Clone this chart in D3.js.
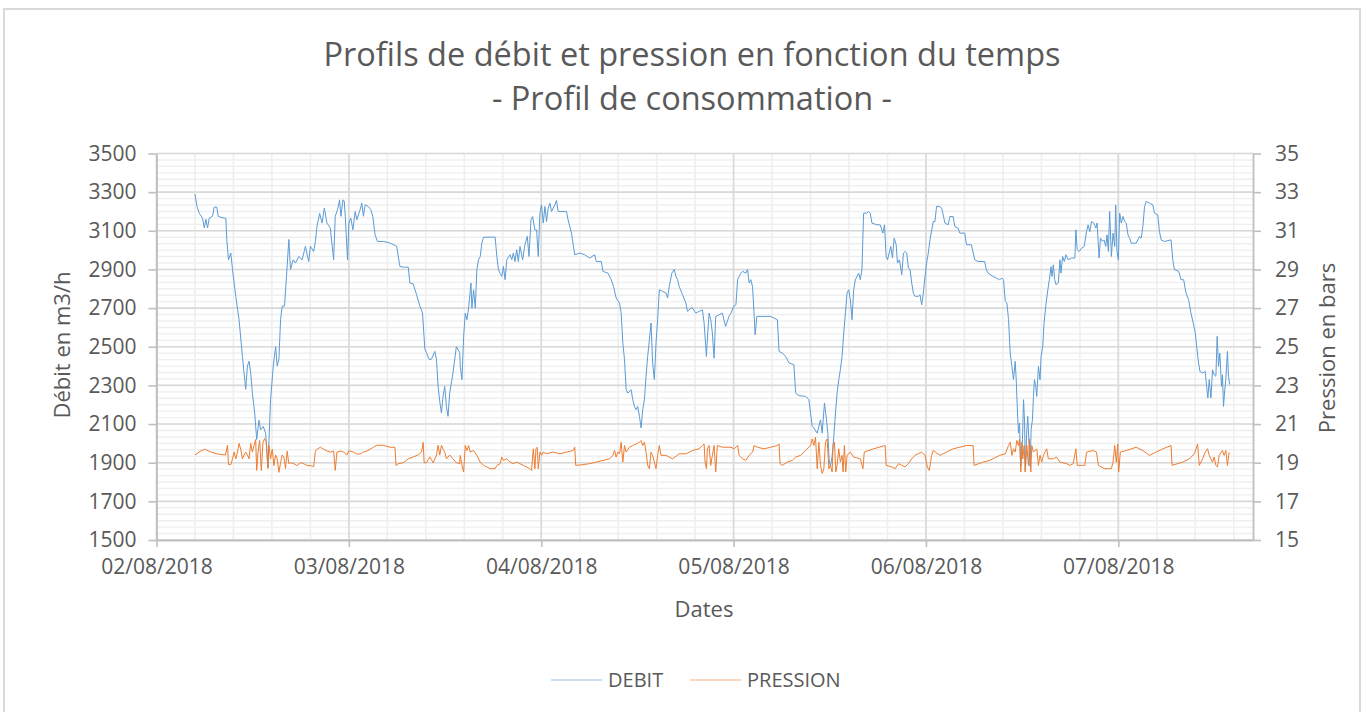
<!DOCTYPE html>
<html>
<head>
<meta charset="utf-8">
<script src="https://cdn.jsdelivr.net/npm/d3@7"></script>
<style>
  body { margin: 0; background: #fff; }
  svg text { font-family: "Open Sans", sans-serif; fill: #595959; }
</style>
</head>
<body>
<svg id="CHART" width="1365" height="712"></svg>
<script>
// hours since 02/08/2018 00:00
var debitHours = [
  4.8, 5.05, 5.34, 5.75, 5.96, 6.17, 6.37, 6.58, 6.99, 7.2, 7.53, 7.7, 8.44, 8.65, 8.77, 8.98, 9.27, 9.48, 9.89, 10.3,
  10.72, 10.92, 11.13, 11.34, 11.55, 11.75, 11.96, 12.25, 12.5, 12.79, 12.99, 13.32, 13.61, 13.9, 14.23, 14.57, 14.86, 15.06, 15.27, 15.48,
  15.68, 15.97, 16.22, 16.51, 16.72, 17.05, 17.34, 17.75, 18.17, 18.58, 18.99, 19.2, 19.61, 19.82, 20.03, 20.36, 20.65, 20.94, 21.27, 21.68,
  22.1, 22.3, 22.59, 22.84, 23.01, 23.26, 23.42, 23.55, 23.83, 24.0, 24.25, 24.5, 24.79, 24.99, 25.41, 25.61, 25.82, 26.03, 26.44, 26.73,
  26.98, 27.27, 27.56, 28.3, 29.13, 29.96, 30.37, 30.79, 31.41, 31.61, 32.03, 32.44, 32.86, 33.19, 33.48, 33.68, 34.01, 34.3, 34.72, 34.93,
  35.13, 35.34, 35.55, 35.75, 35.96, 36.17, 36.37, 36.58, 36.99, 37.41, 37.82,
  37.9, 38.11, 38.32, 38.52, 38.73, 38.94, 39.23, 39.35, 39.56, 39.77, 39.97, 40.18, 40.39, 40.59, 40.8, 41.63, 42.25, 42.46, 42.66, 42.87,
  43.08, 43.28, 43.49, 43.7, 44.11, 44.32, 44.52, 44.73, 44.94, 45.14, 45.35, 45.68, 45.97, 46.26, 46.47, 46.72, 46.92, 47.21, 47.42, 47.63,
  47.83, 48.04, 48.25, 48.46, 48.66, 48.87, 49.08, 49.28, 49.7, 49.9, 50.11, 50.73, 51.15, 51.35, 51.77, 52.18, 52.8, 53.42, 54.04, 54.66,
  54.87, 55.49, 55.7, 56.32, 56.73, 57.02, 57.35, 57.77, 57.97, 58.18, 58.39, 58.59, 58.8, 59.21, 59.42, 59.63, 59.83, 60.04, 60.25, 60.46,
  60.66, 60.87, 61.08, 61.28, 61.49, 61.7, 61.9, 62.11, 62.32, 62.52, 62.73, 63.15, 63.56, 63.77, 63.97, 64.3, 64.59, 64.8, 65.01, 65.21,
  65.63, 66.04, 66.25, 66.66, 66.87, 67.28, 67.7, 68.11, 68.32, 68.61, 68.77, 68.94, 69.15, 69.35, 69.56, 69.77, 70.18, 70.59, 71.01, 71.42,
  71.67, 72.0, 72.29, 72.5, 72.7, 72.91, 73.12, 73.53, 73.74, 73.94, 74.15, 74.36, 74.57, 74.69, 74.9, 75.39, 76.63, 77.05, 77.46, 77.67,
  78.08, 78.5, 78.91, 79.53, 79.74, 80.15, 80.98, 81.39, 81.6, 81.81, 82.01, 82.43, 82.84, 83.05, 83.34, 83.59, 83.75, 83.92, 84.08, 84.29,
  84.5, 84.71, 84.91, 85.12, 85.32, 85.53, 85.74, 85.95, 86.15, 86.36, 86.57, 86.77, 86.98, 87.19, 87.39, 87.6, 87.81, 88.01, 88.22, 88.63,
  88.84, 89.05, 89.26, 89.88, 90.29, 90.62, 90.83, 91.03, 91.2, 91.41, 91.61, 91.82, 92.03, 92.28, 92.44, 92.69, 92.98, 93.19, 93.39, 93.6,
  93.81, 94.01, 94.22, 94.43, 94.63, 95.05, 95.26, 95.46, 95.67, 95.88, 96.08, 96.29, 96.5, 96.91, 97.12, 97.32, 97.74, 97.95, 98.15, 98.36,
  98.77, 98.98, 99.39, 99.6, 100.01, 100.22, 100.84, 101.05, 101.67, 102.08, 102.5, 103.32, 103.53, 103.74, 104.36, 104.77, 105.19,
  105.48, 105.68, 105.89, 106.1, 106.3, 106.51, 106.72, 106.92, 107.13, 107.26, 107.42, 107.54, 107.67, 107.83, 108.04, 108.17, 108.29, 108.41, 108.58, 108.7,
  108.87, 108.99, 109.12, 109.28, 109.41, 109.53, 109.7, 109.82, 110.03, 110.23, 110.36, 110.57, 110.73, 110.94, 111.15, 111.39, 111.6, 111.72, 111.89, 112.06,
  112.22, 112.51, 112.72, 112.84, 113.05, 113.26, 113.46, 113.75, 114.17, 114.58, 114.7, 114.87, 115.12, 115.41, 115.74, 116.03, 116.23, 116.44, 116.65, 116.94,
  117.19, 117.35, 117.6, 117.77, 118.01, 118.22, 118.43, 118.59, 118.76, 118.92, 119.13, 119.34, 119.55, 119.67, 119.83, 120.0, 120.17, 120.37, 120.58, 120.79,
  120.99, 121.2, 121.41, 121.61, 122.23, 122.65, 122.86, 123.06, 123.27, 123.48, 123.89, 124.3, 124.51, 124.92, 125.13, 125.34, 125.75, 126.58, 126.79, 126.99,
  127.53, 127.82, 128.15, 128.44, 128.77, 129.06, 129.35, 129.6, 129.77, 130.01, 130.18, 130.51, 130.84, 131.01, 131.17, 131.34, 131.55, 131.75, 131.96, 132.17,
  132.33, 132.5, 132.66, 132.87, 132.99, 133.12, 133.28, 133.41, 133.61, 133.74, 133.9
];
var debitValues = [
  3290, 3225, 3190, 3165, 3115, 3160, 3115, 3165, 3175, 3222, 3222, 3175, 3165, 3165, 3055, 2950, 2985, 2900, 2760, 2640,
  2450, 2365, 2280, 2400, 2425, 2365, 2260, 2157, 2020, 2120, 2070, 2088, 2053, 1875, 2225, 2400, 2500, 2400, 2435, 2640,
  2710, 2710, 2865, 3055, 2900, 2950, 2933, 2967, 2950, 3020, 2940, 3020, 2993, 3045, 3125, 3190, 3140, 3217, 3140, 3115,
  2950, 3175, 3210, 3260, 3175, 3260, 3255, 3175, 2950, 3140, 3165, 3105, 3200, 3157, 3210, 3243, 3175, 3235, 3225, 3210,
  3175, 3080, 3045, 3045, 3037, 3020, 2915, 2912, 2912, 2830, 2825, 2770, 2710, 2675, 2488, 2470, 2435, 2435, 2476, 2435,
  2295, 2217, 2157, 2243, 2295, 2190, 2140, 2260, 2365, 2500, 2470,
  2398, 2330, 2554, 2674, 2640, 2700, 2830, 2700, 2795, 2700, 2900, 2950, 2967, 3036, 3067, 3067, 3067, 2967, 2900, 2880,
  2864, 2915, 2847, 2950, 2976, 2950, 2985, 2941, 3002, 2941, 3019, 2950, 3028, 3071, 2967, 3157, 3174, 3105, 3105, 2967,
  3191, 3234, 3140, 3226, 3148, 3217, 3243, 3200, 3234, 3257, 3200, 3200, 3200, 3157, 3088, 2976, 2985, 2976, 2959, 2976,
  2941, 2941, 2890, 2881, 2847, 2812, 2752, 2726, 2674, 2519, 2433, 2278, 2260, 2278, 2226, 2191, 2174, 2191, 2140, 2080,
  2174, 2226, 2347, 2450, 2536, 2623, 2416, 2330, 2519, 2640, 2795, 2786, 2778, 2752, 2812, 2881, 2900, 2864, 2847, 2812,
  2769, 2726, 2683, 2700, 2700, 2674, 2683, 2691, 2623, 2450, 2571, 2674, 2640, 2571, 2441, 2657, 2665, 2674, 2605, 2657,
  2674, 2709, 2717, 2847, 2864, 2881, 2890, 2881, 2900, 2830, 2847, 2812, 2657, 2562, 2657, 2657, 2657, 2648, 2640, 2476,
  2467, 2450, 2416, 2407, 2260, 2247, 2243, 2226, 2157, 2088, 2080, 2053, 2122, 2053, 2209, 2122, 2053, 1916, 1881, 1933,
  2036, 2157, 2260, 2330, 2381, 2450, 2571, 2674, 2778, 2795, 2743, 2640, 2795, 2847, 2864, 2881, 2847, 2900, 3191, 3191,
  3200, 3191, 3140, 3131, 3131, 3088, 3131, 2967, 2950, 2985, 3019, 2959, 3062, 3028, 2933, 2950, 2873, 2985, 2993, 2985,
  2907, 2900, 2830, 2778, 2761, 2761, 2769, 2717, 2778, 2864, 2933, 2985, 3053, 3148, 3148, 3226, 3226, 3217, 3183, 3140,
  3131, 3174, 3174, 3122, 3114, 3088, 3088, 3028, 3028, 2950, 2941, 2941, 2900, 2881, 2864, 2855, 2847,
  2855, 2847, 2735, 2726, 2640, 2467, 2398, 2330, 2424, 2330, 2157, 2053, 2105, 1881, 2019, 2226, 2122, 1864, 2071, 2140,
  1985, 1881, 2071, 2122, 2243, 2330, 2295, 2243, 2398, 2330, 2450, 2502, 2622, 2709, 2778, 2847, 2915, 2864, 2924, 2847,
  2821, 2830, 2950, 2881, 2967, 2941, 2976, 2950, 2959, 2959, 3105, 3002, 2993, 3010, 3019, 3096, 3131, 3096, 3148, 3140,
  3114, 3140, 2959, 3062, 3045, 3053, 3019, 3079, 2993, 3200, 2967, 3088, 3019, 3234, 2993, 2950, 3191, 3140, 3174, 3148,
  3140, 3079, 3062, 3036, 3036, 3071, 3062, 3122, 3226, 3252, 3243, 3234, 3191, 3183, 3097, 3053, 3045, 3053, 2950, 2900,
  2890, 2847, 2847, 2778, 2743, 2674, 2622, 2571, 2502, 2416, 2372, 2364, 2372, 2295, 2235, 2330, 2235, 2381, 2355, 2347,
  2554, 2398, 2467, 2295, 2355, 2191, 2278, 2330, 2476, 2347, 2304
];

var pressionHours = [
  4.8, 5.5, 6.0, 6.8, 7.6, 8.6, 8.86, 8.98, 9.27, 9.48, 9.68, 9.89, 10.1, 10.3, 10.51, 10.72, 10.92, 11.13, 11.34, 11.55,
  11.75, 11.96, 12.17, 12.37, 12.5, 12.66, 12.87, 13.08, 13.28, 13.49, 13.7, 13.9, 14.03, 14.23, 14.44, 14.65, 14.86, 15.06, 15.27, 15.48,
  15.68, 15.89, 16.1, 16.3, 16.51, 16.72, 17.13, 17.55, 17.96, 18.37, 18.79, 19.2, 19.61, 19.82, 20.03, 20.44, 20.86, 21.27, 21.68, 22.1,
  22.3, 22.51, 22.92, 23.34, 23.75, 23.96, 24.17, 24.58, 24.99, 25.41, 25.82, 26.23, 26.65, 27.06, 27.48, 28.3, 29.13, 29.75, 29.88, 30.17,
  30.79, 31.41, 32.03, 32.65, 33.06, 33.27, 33.39, 33.68, 34.1, 34.51, 34.93, 35.13, 35.34, 35.55, 35.75, 35.96, 36.17, 36.58, 36.99, 37.41, 37.82,
  37.9, 38.11, 38.32, 38.52, 38.73, 38.94, 39.14, 39.56, 39.97, 40.39, 40.8, 41.21, 41.63, 42.25, 42.46, 42.87, 43.08, 43.28, 43.7, 44.11,
  44.52, 44.94, 45.35, 45.77, 46.18, 46.59, 46.8, 47.01, 47.21, 47.34, 47.5, 47.63, 47.83, 48.04, 48.25, 48.66, 49.49, 50.32, 51.15, 51.97,
  52.18, 52.3, 53.21, 54.04, 54.87, 55.7, 56.52, 56.94, 57.15, 57.35, 57.56, 57.77, 57.97, 58.18, 58.39, 58.59, 59.01, 59.42, 59.83, 60.25,
  60.46, 60.66, 60.87, 61.08, 61.28, 61.49, 61.7, 61.9, 62.11, 62.32, 62.52, 62.73, 62.94, 63.56, 64.39, 65.21, 66.04, 66.87, 67.7, 68.11,
  68.32, 68.44, 68.61, 68.73, 68.94, 69.15, 69.35, 69.56, 69.77, 69.97, 70.59, 71.42,
  71.67, 72.08, 72.5, 72.7, 73.12, 73.53, 73.94, 74.36, 74.57, 74.98, 75.81, 76.63, 77.46, 77.67, 77.79, 78.08, 78.7, 79.32, 79.74, 80.36,
  80.98, 81.6, 81.81, 82.01, 82.22, 82.43, 82.64, 82.84, 83.05, 83.26, 83.46, 83.67, 83.88, 84.08, 84.29, 84.41, 84.58, 84.75, 84.91, 85.12,
  85.32, 85.53, 85.66, 85.82, 85.99, 86.15, 86.57, 86.98, 87.81, 88.14, 88.3, 89.46, 90.91, 91.03, 91.74, 92.15, 92.57, 92.98, 93.39, 93.81,
  94.22, 94.63, 95.46, 95.88, 96.17, 96.41, 96.7, 96.91, 97.74, 98.57, 99.39, 100.22, 101.05, 101.88, 102.0, 103.12, 103.95, 105.19,
  105.89, 106.3, 106.51, 106.72, 106.92, 107.13, 107.34, 107.54, 107.67, 107.83, 107.96, 108.08, 108.25, 108.37, 108.58, 108.79, 108.91, 109.08, 109.2, 109.41,
  109.82, 110.03, 110.23, 110.44, 110.65, 111.06, 111.27, 111.89, 112.3, 112.72, 113.55, 113.96, 114.37, 114.7, 114.87, 115.41, 115.82, 116.03, 116.86, 117.27,
  117.52, 118.3, 119.13, 119.34, 119.55, 119.75, 119.92, 120.04, 120.25, 120.99, 122.23, 123.06, 123.89, 124.72, 125.55, 126.58, 126.7, 128.03, 128.86, 129.48,
  129.89, 130.1, 130.51, 130.84, 131.13, 131.34, 131.75, 131.96, 132.17, 132.37, 132.58, 132.99, 133.2, 133.41, 133.61, 133.82
];
var pressionValues = [
  19.4, 19.6, 19.7, 19.55, 19.45, 19.4, 19.9, 18.9, 18.9, 19.2, 19.55, 19.2, 19.55, 20.0, 19.7, 19.2, 19.4, 19.55, 19.4, 19.2,
  20.0, 19.55, 19.9, 20.2, 18.6, 19.55, 20.15, 18.6, 20.05, 20.25, 20.1, 18.7, 19.9, 19.2, 19.7, 18.85, 19.4, 19.2, 18.5, 19.0,
  19.4, 19.3, 18.7, 19.6, 18.95, 19.0, 18.95, 18.85, 19.0, 18.95, 18.85, 18.85, 18.8, 19.6, 19.7, 19.8, 19.7, 19.6, 19.55, 19.6,
  18.6, 19.55, 19.6, 19.55, 19.4, 19.6, 19.6, 19.55, 19.45, 19.45, 19.55, 19.6, 19.7, 19.8, 19.9, 19.9, 19.8, 19.8, 18.85, 18.95,
  19.0, 19.2, 19.3, 19.4, 19.55, 20.05, 19.0, 19.0, 19.3, 19.0, 19.4, 19.9, 19.4, 19.9, 19.7, 19.55, 19.2, 19.4, 19.2, 19.0, 18.95,
  19.38, 18.86, 18.52, 19.89, 19.63, 19.89, 19.55, 19.63, 19.38, 19.03, 18.86, 18.78, 18.69, 18.69, 18.86, 18.95, 19.29, 19.12, 19.2, 19.03,
  18.95, 19.03, 18.95, 18.86, 18.78, 18.69, 18.6, 19.72, 18.69, 19.72, 19.8, 18.69, 19.55, 19.38, 19.55, 19.46, 19.55, 19.46, 19.55, 19.63,
  19.8, 18.86, 18.9, 18.95, 19.03, 19.12, 19.2, 19.38, 19.63, 19.29, 19.55, 19.46, 20.06, 19.03, 19.89, 19.55, 19.8, 19.89, 19.97, 20.06,
  20.15, 19.89, 20.06, 19.55, 18.86, 18.69, 19.55, 19.38, 19.03, 18.69, 19.38, 19.89, 19.38, 19.38, 19.2, 19.46, 19.46, 19.63, 19.72, 19.89,
  19.97, 19.03, 18.69, 19.72, 19.89, 18.86, 19.38, 19.89, 18.52, 19.89, 19.8, 19.8,
  19.8, 19.72, 19.89, 19.38, 19.2, 19.12, 19.38, 19.55, 19.89, 19.8, 19.72, 19.8, 19.89, 19.97, 18.95, 18.86, 19.03, 19.12, 19.29, 19.38,
  19.63, 19.89, 20.23, 19.89, 20.32, 18.69, 20.06, 18.86, 18.44, 18.69, 20.06, 20.23, 18.69, 18.86, 18.52, 19.89, 20.06, 18.52, 18.86, 19.72,
  19.03, 19.38, 18.52, 19.89, 18.52, 19.38, 19.55, 19.29, 19.2, 18.69, 19.55, 19.72, 19.89, 18.86, 18.78, 18.69, 18.95, 18.86, 18.78, 18.95,
  19.2, 19.38, 19.55, 19.38, 18.78, 18.6, 19.38, 19.63, 19.38, 19.55, 19.72, 19.8, 19.89, 19.89, 18.86, 19.03, 19.12, 19.38,
  19.46, 19.89, 20.06, 19.38, 19.72, 19.55, 20.15, 19.89, 20.23, 18.52, 20.06, 19.2, 19.89, 18.52, 19.89, 18.86, 20.23, 18.52, 19.89, 19.55,
  19.72, 18.86, 19.38, 19.03, 19.38, 19.72, 19.2, 19.2, 19.29, 19.03, 18.95, 18.86, 18.95, 19.72, 18.86, 18.86, 18.86, 19.55, 19.63, 19.55,
  18.86, 18.69, 18.69, 19.03, 19.89, 19.03, 19.97, 18.52, 19.55, 19.63, 19.8, 19.63, 19.38, 19.55, 19.72, 19.89, 18.86, 19.03, 19.2, 19.46,
  19.97, 18.86, 19.2, 19.55, 19.72, 19.38, 19.03, 19.29, 18.86, 18.78, 19.38, 19.63, 19.38, 19.63, 18.86, 19.55
];

var debitTicks = [1500, 1700, 1900, 2100, 2300, 2500, 2700, 2900, 3100, 3300, 3500];
var pressionTicks = [15, 17, 19, 21, 23, 25, 27, 29, 31, 33, 35];
var dayTicks = [0, 24, 48, 72, 96, 120];
var dayLabels = ["02/08/2018", "03/08/2018", "04/08/2018", "05/08/2018", "06/08/2018", "07/08/2018"];
var seriesNames = ["DEBIT", "PRESSION"];
var seriesColors = ["#5b9bd5", "#ed7d31"];

var L = 156.5, R = 1253, T = 153.5, B = 540;
var svg = d3.select("#CHART");

var x = d3.scaleLinear().domain([0, 136.8]).range([L, R]);
var yL = d3.scaleLinear().domain([1500, 3500]).range([B, T]);
var yR = d3.scaleLinear().domain([15, 35]).range([B, T]);

// frame
svg.append("rect").attr("x", 4).attr("y", 9).attr("width", 1356).attr("height", 712)
  .attr("fill", "none").attr("stroke", "#d9d9d9").attr("stroke-width", 2);

// minor grid
var G = svg.append("g");
var minorY = d3.range(1500, 3500.1, 200 / 6);
G.selectAll("line.minorY").data(minorY).enter().append("line")
  .attr("x1", L).attr("x2", R).attr("y1", yL).attr("y2", yL)
  .attr("stroke", "#efefef").attr("stroke-width", 1.4);
var minorX = d3.range(0, 136.8, 4.8);
G.selectAll("line.minorX").data(minorX).enter().append("line")
  .attr("x1", x).attr("x2", x).attr("y1", T).attr("y2", B)
  .attr("stroke", "#efefef").attr("stroke-width", 1.6);
// major grid
G.selectAll("line.majorY").data(debitTicks).enter().append("line")
  .attr("x1", L).attr("x2", R).attr("y1", yL).attr("y2", yL)
  .attr("stroke", "#d9d9d9").attr("stroke-width", 1.6);
G.selectAll("line.majorX").data(dayTicks).enter().append("line")
  .attr("x1", x).attr("x2", x).attr("y1", T).attr("y2", B)
  .attr("stroke", "#d9d9d9").attr("stroke-width", 1.6);

// axes
function styleAxis(g) {
  g.select(".domain").attr("stroke", "#bfbfbf").attr("stroke-width", 1.8);
  g.selectAll(".tick line").attr("stroke", "#bfbfbf").attr("stroke-width", 1.6);
  g.selectAll(".tick text").attr("fill", "#595959").style("font-size", "21px")
    .style("font-family", "'Open Sans', sans-serif");
}
svg.append("g").attr("transform", "translate(" + L + ",0)")
  .call(d3.axisLeft(yL).tickValues(debitTicks).tickFormat(d3.format("d"))
    .tickSize(8).tickSizeOuter(0).tickPadding(12))
  .call(styleAxis);
svg.append("g").attr("transform", "translate(" + R + ",0)")
  .call(d3.axisRight(yR).tickValues(pressionTicks).tickFormat(d3.format("d"))
    .tickSize(8).tickSizeOuter(0).tickPadding(14))
  .call(styleAxis);
svg.append("g").attr("transform", "translate(0," + B + ")")
  .call(d3.axisBottom(x).tickValues(dayTicks).tickFormat(function (d, i) { return dayLabels[i]; })
    .tickSize(7).tickSizeOuter(0).tickPadding(12))
  .call(styleAxis);

// series
var debitPts = debitHours.map(function (h, i) { return [h, debitValues[i]]; });
var pressionPts = pressionHours.map(function (h, i) { return [h, pressionValues[i]]; });
svg.append("path").datum(debitPts)
  .attr("fill", "none").attr("stroke", seriesColors[0]).attr("stroke-width", 1)
  .attr("d", d3.line().x(function (d) { return x(d[0]); }).y(function (d) { return yL(d[1]); }));
svg.append("path").datum(pressionPts)
  .attr("fill", "none").attr("stroke", seriesColors[1]).attr("stroke-width", 1)
  .attr("d", d3.line().x(function (d) { return x(d[0]); }).y(function (d) { return yR(d[1]); }));

// titles
svg.append("text").attr("x", 692).attr("y", 66).attr("text-anchor", "middle")
  .style("font-size", "32.5px").text("Profils de débit et pression en fonction du temps");
svg.append("text").attr("x", 692).attr("y", 110).attr("text-anchor", "middle")
  .style("font-size", "32.5px").text("- Profil de consommation -");
svg.append("text").attr("x", 704).attr("y", 617).attr("text-anchor", "middle")
  .style("font-size", "22px").text("Dates");
svg.append("text").attr("transform", "translate(70,345) rotate(-90)").attr("text-anchor", "middle")
  .style("font-size", "22px").text("Débit en m3/h");
svg.append("text").attr("transform", "translate(1335,348) rotate(-90)").attr("text-anchor", "middle")
  .style("font-size", "22px").text("Pression en bars");

// legend
var legX = [551, 690];
var leg = svg.selectAll("g.leg").data(seriesNames).enter().append("g")
  .attr("transform", function (d, i) { return "translate(" + legX[i] + ",680)"; });
leg.append("line").attr("x1", 0).attr("x2", 51).attr("y1", 0).attr("y2", 0)
  .attr("stroke", function (d, i) { return seriesColors[i]; }).attr("stroke-width", 1.2).attr("opacity", 0.6);
leg.append("text").attr("x", 57).attr("y", 7).style("font-size", "20px").text(function (d) { return d; });
</script>
</body>
</html>
